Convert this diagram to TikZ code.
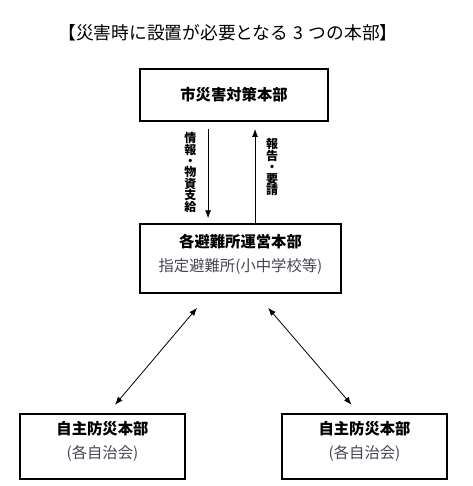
\documentclass[tikz,border=0pt]{standalone}
\usepackage{fontspec}
\setmainfont{Noto Sans CJK JP}
\usetikzlibrary{arrows.meta,positioning}
\definecolor{subgray}{RGB}{70,70,82}

\begin{document}
\begin{tikzpicture}[
  font=\fontsize{11.5}{18}\selectfont,
  box/.style={draw, line width=1.4pt, align=center, inner sep=0pt},
  vlbl/.style={font=\fontsize{9}{8.6}\selectfont\bfseries, align=center, inner sep=0pt},
  arr/.style={line width=0.6pt, -{Latex[length=6pt,width=4.5pt]}},
  darr/.style={line width=0.6pt, {Latex[length=6pt,width=4.5pt]}-{Latex[length=6pt,width=4.5pt]}}
]
\useasboundingbox (0,0) rectangle (354.75pt,-364.5pt);
\node[font=\fontsize{13.3}{15}\selectfont] (title) at (171pt,-24.75pt) {【災害時に設置が必要となる\hspace{0.3em}3\hspace{0.3em}つの本部】};
\node[box, minimum width=141pt, minimum height=39pt, font=\fontsize{11.5}{18}\selectfont\bfseries] (cityhq) at (175.5pt,-71.25pt) {市災害対策本部};
\node[box, minimum width=150.75pt, minimum height=51.75pt, below=75.75pt of cityhq.south west, anchor=north west] (shelter)
  {\textbf{各避難所運営本部}\\\textcolor{subgray}{指定避難所(小中学校等)\rule[-8pt]{0pt}{8pt}}};
\node[box, minimum width=124pt, minimum height=48.75pt, below left=89.25pt and -35.25pt of shelter.south west] (selfL)
  {\textbf{自主防災本部}\\\textcolor{subgray}{(各自治会)\rule[-10pt]{0pt}{10pt}}};
\node[box, minimum width=124pt, minimum height=48.75pt, below right=89.25pt and -45.75pt of shelter.south east] (selfR)
  {\textbf{自主防災本部}\\\textcolor{subgray}{(各自治会)\rule[-10pt]{0pt}{10pt}}};
\draw[arr, shorten <=5.25pt, shorten >=3.5pt] ([xshift=51.75pt]cityhq.south west) -- ([xshift=51.75pt]shelter.north west)
  node[vlbl, midway, left=8.5pt] {情\\報\\・\\物\\資\\支\\給};
\draw[arr, shorten >=5.25pt] ([xshift=87pt]shelter.north west) -- ([xshift=87pt]cityhq.south west)
  node[vlbl, pos=0.55, right=8pt] {報\\告\\・\\要\\請};
\draw[darr] ([xshift=43.5pt,yshift=-10.5pt]shelter.south west) -- ([xshift=9.4pt,yshift=6pt]selfL.north);
\draw[darr] ([xshift=96.75pt,yshift=-10.5pt]shelter.south west) -- ([xshift=-9.75pt,yshift=6pt]selfR.north);
\end{tikzpicture}
\end{document}
